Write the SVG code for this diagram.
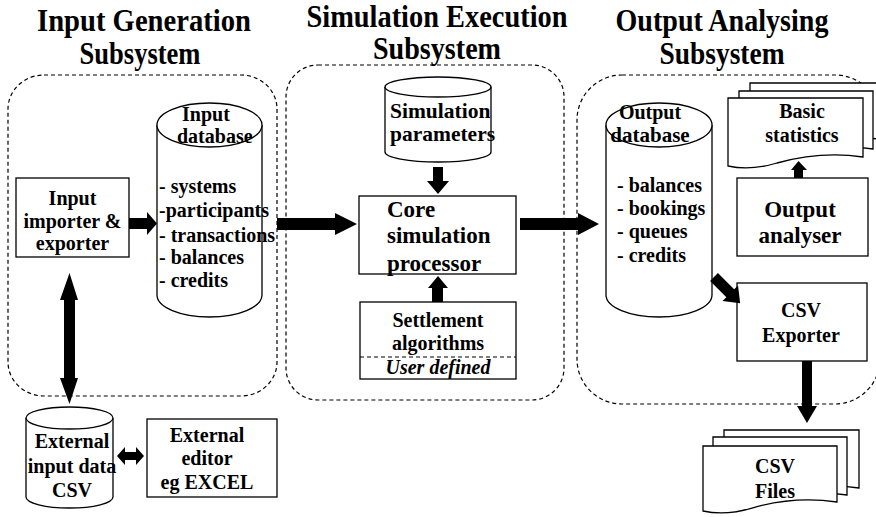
<svg xmlns="http://www.w3.org/2000/svg" width="876" height="517" viewBox="0 0 876 517">
<style>
  text { font-family: "Liberation Serif", "Times New Roman", serif; font-weight: bold; fill: #000; }
  .t { font-size: 31px; text-anchor: middle; }
  .m { font-size: 20px; text-anchor: middle; }
  .l { font-size: 20px; }
  .big { font-size: 23px; }
  .c { text-anchor: middle; }
  .it { font-style: italic; }
  .box { fill: #fff; stroke: #000; stroke-width: 1.3; }
  .sub { fill: none; stroke: #000; stroke-width: 1.2; stroke-dasharray: 4 3; }
  .arr { fill: #000; stroke: none; }
</style>
<rect width="876" height="517" fill="#fff"/>

<g id="titles">
  <text class="t" x="144" y="31" textLength="214" lengthAdjust="spacingAndGlyphs">Input Generation</text>
  <text class="t" x="140" y="64" textLength="121" lengthAdjust="spacingAndGlyphs">Subsystem</text>
  <text class="t" x="437" y="27" textLength="261" lengthAdjust="spacingAndGlyphs">Simulation Execution</text>
  <text class="t" x="437" y="59" textLength="128" lengthAdjust="spacingAndGlyphs">Subsystem</text>
  <text class="t" x="722" y="31" textLength="213" lengthAdjust="spacingAndGlyphs">Output Analysing</text>
  <text class="t" x="722" y="64" textLength="125" lengthAdjust="spacingAndGlyphs">Subsystem</text>
</g>

<g id="subsystems">
  <rect id="input-subsystem" class="sub" x="8" y="75" width="269" height="321" rx="36" ry="34"/>
  <rect id="simulation-subsystem" class="sub" x="286" y="65" width="278" height="335" rx="32" ry="32"/>
  <rect id="output-subsystem" class="sub" x="577" y="75" width="303" height="329" rx="45" ry="45"/>
</g>

<g id="input-importer">
  <rect class="box" x="16" y="178" width="113" height="79"/>
  <text class="m" x="72.5" y="205">Input</text>
  <text class="m" x="72.5" y="228">importer &amp;</text>
  <text class="m" x="72.5" y="250">exporter</text>
</g>

<g id="input-database">
  <path class="box" d="M157,125 V295 A52.5,22 0 0,0 262,295 V125"/>
  <ellipse class="box" cx="209.5" cy="125" rx="52.5" ry="22"/>
  <text class="l" x="182" y="121">Input</text>
  <text class="l" x="177" y="143">database</text>
  <text class="l" x="159" y="193">- systems</text>
  <text class="l" x="159" y="217">-participants</text>
  <text class="l" x="159" y="242">- transactions</text>
  <text class="l" x="159" y="264">- balances</text>
  <text class="l" x="159" y="287">- credits</text>
</g>

<g id="simulation-parameters">
  <path class="box" d="M385,87 V152 A53,10 0 0,0 491,152 V87"/>
  <ellipse class="box" cx="438" cy="87" rx="53" ry="10"/>
  <text class="l" x="390" y="118" style="font-size:21.5px">Simulation</text>
  <text class="l" x="390" y="141" style="font-size:21.5px">parameters</text>
</g>

<g id="core-processor">
  <rect class="box" x="359" y="196" width="157" height="78"/>
  <text class="big" x="387" y="217">Core</text>
  <text class="big" x="387" y="243">simulation</text>
  <text class="big" x="387" y="271">processor</text>
</g>

<g id="settlement-algorithms">
  <rect class="box" x="360" y="302" width="156" height="77"/>
  <line x1="360" y1="357" x2="516" y2="357" stroke="#000" stroke-width="1.2" stroke-dasharray="4 3"/>
  <text class="m" x="438" y="327">Settlement</text>
  <text class="m" x="438" y="350">algorithms</text>
  <text class="m it" x="438" y="374">User defined</text>
</g>

<g id="output-database">
  <path class="box" d="M606,125 V295 A53,22 0 0,0 712,295 V125"/>
  <ellipse class="box" cx="659" cy="125" rx="53" ry="22"/>
  <text class="l c" x="650" y="119">Output</text>
  <text class="l c" x="650" y="142" style="font-size:21px">database</text>
  <text class="l" x="617" y="192">- balances</text>
  <text class="l" x="617" y="215">- bookings</text>
  <text class="l" x="617" y="238">- queues</text>
  <text class="l" x="617" y="262">- credits</text>
</g>

<g id="basic-statistics">
  <path class="box" d="M750,83 H886 V140 C860,136 830,138 800,146 C780,152 765,152 750,149 Z"/>
  <path class="box" d="M739,91 H873 V149 C847,145 817,147 789,155 C769,161 754,161 739,158 Z"/>
  <path class="box" d="M728,98 H863 V157 C836,153 806,155 777,163 C757,169 742,169 728,166 Z"/>
  <text class="m" x="802" y="118">Basic</text>
  <text class="m" x="802" y="142">statistics</text>
</g>

<g id="output-analyser">
  <rect class="box" x="737" y="178" width="131" height="78"/>
  <text class="big c" x="800" y="217">Output</text>
  <text class="big c" x="800" y="243">analyser</text>
</g>

<g id="csv-exporter">
  <rect class="box" x="737" y="283" width="130" height="78"/>
  <text class="m" x="801" y="317">CSV</text>
  <text class="m" x="801" y="342">Exporter</text>
</g>

<g id="csv-files">
  <path class="box" d="M724,430 H859 V488 C832,484 802,486 774,494 C754,500 739,500 724,497 Z"/>
  <path class="box" d="M713,437 H847 V495 C820,491 790,493 763,501 C743,507 728,507 713,504 Z"/>
  <path class="box" d="M703,446 H837 V502 C810,498 780,500 752,508 C732,514 717,514 703,511 Z"/>
  <text class="m" x="775" y="473">CSV</text>
  <text class="m" x="775" y="498">Files</text>
</g>

<g id="external-input-data">
  <path class="box" d="M26,418 V497 A43.5,11 0 0,0 113,497 V418"/>
  <ellipse class="box" cx="69.5" cy="418" rx="43.5" ry="11"/>
  <text class="m" x="72" y="448">External</text>
  <text class="m" x="72" y="473">input data</text>
  <text class="m" x="72" y="497">CSV</text>
</g>

<g id="external-editor">
  <rect class="box" x="147" y="419" width="130" height="78"/>
  <text class="m" x="207" y="442">External</text>
  <text class="m" x="207" y="465">editor</text>
  <text class="m" x="207" y="489">eg EXCEL</text>
</g>

<g id="connectors">
  <!-- importer -> input database -->
  <polygon class="arr" points="129,218 147,218 147,212 157,223.5 147,235 147,229 129,229"/>
  <!-- input database -> core -->
  <polygon class="arr" points="277,218 335,218 335,213 357,224 335,235 335,230 277,230"/>
  <!-- core -> output database -->
  <polygon class="arr" points="520,218 578,218 578,213 599,224 578,235 578,230 520,230"/>
  <!-- simulation parameters -> core -->
  <polygon class="arr" points="433,167 443,167 443,181 449,181 438,194 427,181 433,181"/>
  <!-- settlement -> core -->
  <polygon class="arr" points="432,302 443,302 443,288 448,288 438,276 428,288 432,288"/>
  <!-- analyser -> basic statistics -->
  <polygon class="arr" points="794,178 803,178 803,170 807,170 798.5,161 791,170 794,170"/>
  <!-- output database -> csv exporter -->
  <polygon class="arr" transform="translate(714,277) rotate(45)" points="0,-5.5 23,-5.5 23,-11 37,0 23,11 23,5.5 0,5.5"/>
  <!-- csv exporter -> csv files -->
  <polygon class="arr" points="802,361 812,361 812,406 817,406 807,423 797,406 802,406"/>
  <!-- importer <-> external input data -->
  <polygon class="arr" points="69.5,273 78,300 75,300 75,378 78,378 69.5,404 60,378 64,378 64,300 60,300"/>
  <!-- external input data <-> editor -->
  <polygon class="arr" points="117,456 125,447 125,452 136,452 136,447 144,456 136,465 136,460 125,460 125,465"/>
</g>
</svg>
